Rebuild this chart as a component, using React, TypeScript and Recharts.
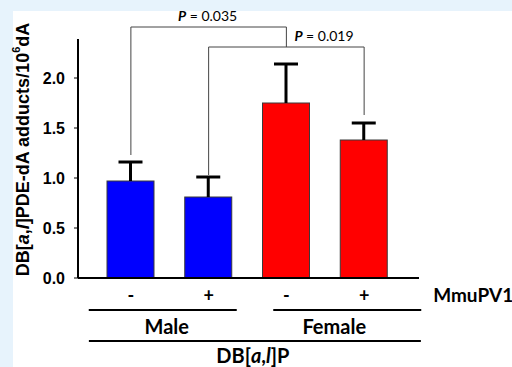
import React from "react";
import {
  ComposedChart,
  Bar,
  Cell,
  XAxis,
  YAxis,
  ReferenceLine
} from "recharts";

const conditions = ["Male -", "Male +", "Female -", "Female +"];
const sexes = ["Male", "Male", "Female", "Female"];
const virus = ["-", "+", "-", "+"];
const means = [0.97, 0.81, 1.75, 1.38];
const sems = [0.19, 0.2, 0.39, 0.17];
const yTicks = [0, 0.5, 1, 1.5, 2];

// significance brackets: bar indices, leg bottoms and bracket top (data units)
const bracketFrom = [0, 1];
const bracketTo = [2, 3];
const bracketLeft = [1.23, 1.03];
const bracketRight = [2.31, 1.63];
const bracketTop = [2.51, 2.31];
const bracketText = ["0.035", "0.019"];

const sexColor: Record<string, string> = { Male: "#0000ff", Female: "#ff0000" };

const data = conditions.map((c, i) => ({
  cond: c,
  sex: sexes[i],
  sign: virus[i],
  mean: means[i],
  sem: sems[i]
}));

const boldSans = "'Liberation Sans', Arial, sans-serif";
const calib = "Lato, 'Open Sans', sans-serif";

function BarWithErr(props: any) {
  const { x, y, width, height, fill, payload } = props;
  const perUnit = height / payload.mean;
  const top = y - payload.sem * perUnit;
  const cx = x + width / 2;
  return (
    <g>
      <rect x={x} y={y} width={width} height={height} fill={fill} stroke="#3a3a3a" strokeWidth={1} />
      <line x1={cx} x2={cx} y1={y} y2={top} stroke="#000" strokeWidth={3} />
      <line x1={cx - 12} x2={cx + 12} y1={top} y2={top} stroke="#000" strokeWidth={3} />
    </g>
  );
}

function XTick(props: any) {
  const { x, y, payload } = props;
  const i = payload.index;
  const half = payload.offset || 39;
  const mid = x + half;
  return (
    <g fontFamily={calib} fontWeight="bold" fill="#000">
      <text x={x} y={y + 24} textAnchor="middle" fontSize={18}>
        {virus[i]}
      </text>
      {i === 0 && (
        <g>
          <line x1={mid - 81} x2={mid + 67} y1={y + 32} y2={y + 32} stroke="#000" strokeWidth={2} />
          <text x={mid - 3} y={y + 56} textAnchor="middle" fontSize={20}>
            {sexes[i]}
          </text>
          <line x1={x - 42} x2={x + 290} y1={y + 63} y2={y + 63} stroke="#000" strokeWidth={2} />
          <text x={x + 122} y={y + 85} textAnchor="middle" fontSize={20}>
            DB[<tspan fontStyle="italic">a</tspan>,<tspan fontStyle="italic">l</tspan>]P
          </text>
        </g>
      )}
      {i === 2 && (
        <g>
          <line x1={mid - 52} x2={mid + 96} y1={y + 32} y2={y + 32} stroke="#000" strokeWidth={2} />
          <text x={mid + 9} y={y + 56} textAnchor="middle" fontSize={20}>
            {sexes[i]}
          </text>
        </g>
      )}
      {i === 3 && (
        <text x={x + 69} y={y + 24} textAnchor="start" fontSize={19}>
          MmuPV1
        </text>
      )}
    </g>
  );
}

function YLabel(props: any) {
  const vb = props.viewBox || {};
  const cx = vb.x + 5;
  const cy = vb.y + vb.height / 2 - 9;
  return (
    <text
      x={cx}
      y={cy}
      transform={`rotate(-90, ${cx}, ${cy})`}
      textAnchor="middle"
      dominantBaseline="central"
      fontFamily={boldSans}
      fontWeight="bold"
      fontSize={18}
      fill="#000"
    >
      DB[<tspan fontStyle="italic">a</tspan>,<tspan fontStyle="italic">l</tspan>]PDE-dA adducts/10
      <tspan fontSize={11} dy={-7}>6</tspan>
      <tspan dy={7}>dA</tspan>
    </text>
  );
}

function PLabel({ viewBox, text, centered }: any) {
  const vb = viewBox || {};
  const x0 = vb.x !== undefined ? vb.x : Math.min(vb.x1, vb.x2);
  const w = vb.width !== undefined ? vb.width : Math.abs(vb.x2 - vb.x1);
  const y0 = vb.y !== undefined ? vb.y : Math.min(vb.y1, vb.y2);
  const mid = x0 + w / 2;
  return (
    <text
      x={centered ? mid - 1 : mid + 8}
      y={y0 - 6}
      textAnchor={centered ? "middle" : "start"}
      fontFamily={calib}
      fontSize={14}
      fill="#000"
    >
      <tspan fontStyle="italic" fontWeight="bold">P</tspan> = {text}
    </text>
  );
}

export default function App() {
  const legs: any[] = [];
  bracketFrom.forEach((f, k) => {
    const a = conditions[f];
    const b = conditions[bracketTo[k]];
    const top = bracketTop[k];
    legs.push(
      <ReferenceLine
        key={`l${k}`}
        segment={[{ x: a, y: bracketLeft[k] }, { x: a, y: top }]}
        stroke="#444"
        strokeWidth={1}
        ifOverflow="visible"
      />,
      <ReferenceLine
        key={`t${k}`}
        segment={[{ x: a, y: top }, { x: b, y: top }]}
        stroke="#444"
        strokeWidth={1}
        ifOverflow="visible"
        label={<PLabel text={bracketText[k]} centered={k === 0} />}
      />,
      <ReferenceLine
        key={`r${k}`}
        segment={[{ x: b, y: top }, { x: b, y: bracketRight[k] }]}
        stroke="#444"
        strokeWidth={1}
        ifOverflow="visible"
      />
    );
  });

  return (
    <div
      style={{
        position: "absolute",
        left: 0,
        top: 0,
        width: 512,
        height: 367,
        background: "#e7f3fc",
        overflow: "hidden"
      }}
    >
      <div
        style={{
          position: "absolute",
          left: 13,
          top: 11,
          width: 499,
          height: 356,
          background: "#ffffff"
        }}
      />
      <div style={{ position: "absolute", left: 0, top: 0 }}>
        <ComposedChart
          width={512}
          height={367}
          data={data}
          margin={{ top: 39, right: 93, left: 18, bottom: 9 }}
          style={{ overflow: "visible" }}
        >
          <XAxis
            dataKey="cond"
            height={80}
            tickLine={false}
            tickSize={0}
            tickMargin={0}
            axisLine={{ stroke: "#000", strokeWidth: 2 }}
            padding={{ left: 14, right: 16 }}
            tick={<XTick />}
            interval={0}
          />
          <YAxis
            width={60}
            domain={[0, 2.39]}
            ticks={yTicks}
            tickFormatter={(v: number) => v.toFixed(1)}
            axisLine={{ stroke: "#000", strokeWidth: 2 }}
            tickLine={{ stroke: "#000" }}
            tickSize={4}
            tickMargin={9}
            tick={{ fill: "#000", fontFamily: boldSans, fontWeight: "bold", fontSize: 16 }}
            label={<YLabel />}
          />
          <Bar dataKey="mean" barSize={47} shape={<BarWithErr />} isAnimationActive={false}>
            {data.map((d) => (
              <Cell key={d.cond} fill={sexColor[d.sex]} />
            ))}
          </Bar>
          {legs}
        </ComposedChart>
      </div>
    </div>
  );
}
